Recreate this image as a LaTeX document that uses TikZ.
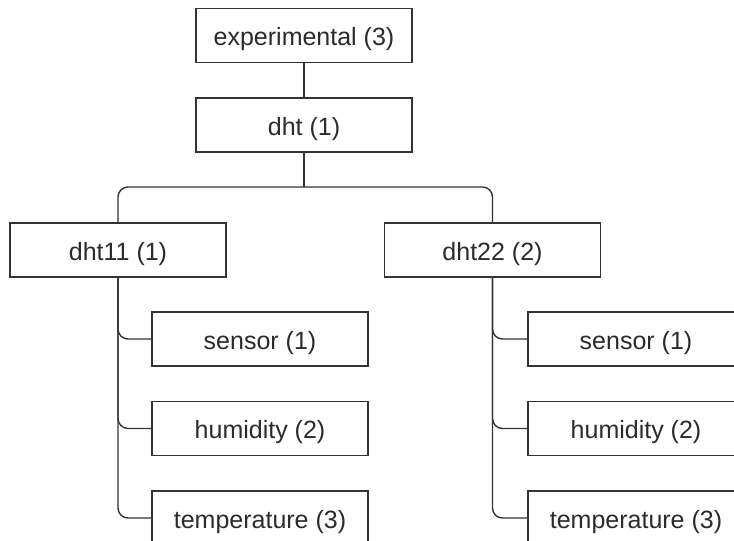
\documentclass[tikz,border=0pt]{standalone}
\usepackage{fontspec}
\setmainfont{Liberation Sans}
\definecolor{linec}{HTML}{333333}
\definecolor{textc}{HTML}{2b2b2b}
\begin{document}
\begin{tikzpicture}[x=1pt,y=-1pt,
  box/.style={draw=linec, line width=1.4pt, fill=white, minimum width=216pt, minimum height=54pt, inner sep=0pt, text height=25pt, text depth=5pt, text=textc, font=\fontsize{25}{29}\selectfont},
  conn/.style={draw=linec, line width=1.4pt, rounded corners=10pt}]
\useasboundingbox (0,0) rectangle (734,541);
\clip (0,0) rectangle (734,541);
\node[box] (exp) at (304,35.5) {experimental (3)};
\node[box] (dht) at (304,125) {dht (1)};
\node[box] (d11) at (118,250) {dht11 (1)};
\node[box] (d22) at (492.5,250) {dht22 (2)};
\node[box] (s1) at (260,339) {sensor (1)};
\node[box] (h1) at (260,428.5) {humidity (2)};
\node[box] (t1) at (260,518) {temperature (3)};
\node[box] (s2) at (636,339) {sensor (1)};
\node[box] (h2) at (636,428.5) {humidity (2)};
\node[box] (t2) at (636,518) {temperature (3)};
\coordinate (split) at (304,187);
\draw[conn] (exp.south) -- (dht.north);
\draw[conn] (dht.south) -- (split);
\draw[conn] (split) -| (d11.north);
\draw[conn] (split) -| (d22.north);
\draw[conn] (d11.south) |- (s1.west);
\draw[conn] (d11.south) |- (h1.west);
\draw[conn] (d11.south) |- (t1.west);
\draw[conn] (d22.south) |- (s2.west);
\draw[conn] (d22.south) |- (h2.west);
\draw[conn] (d22.south) |- (t2.west);
\end{tikzpicture}
\end{document}
